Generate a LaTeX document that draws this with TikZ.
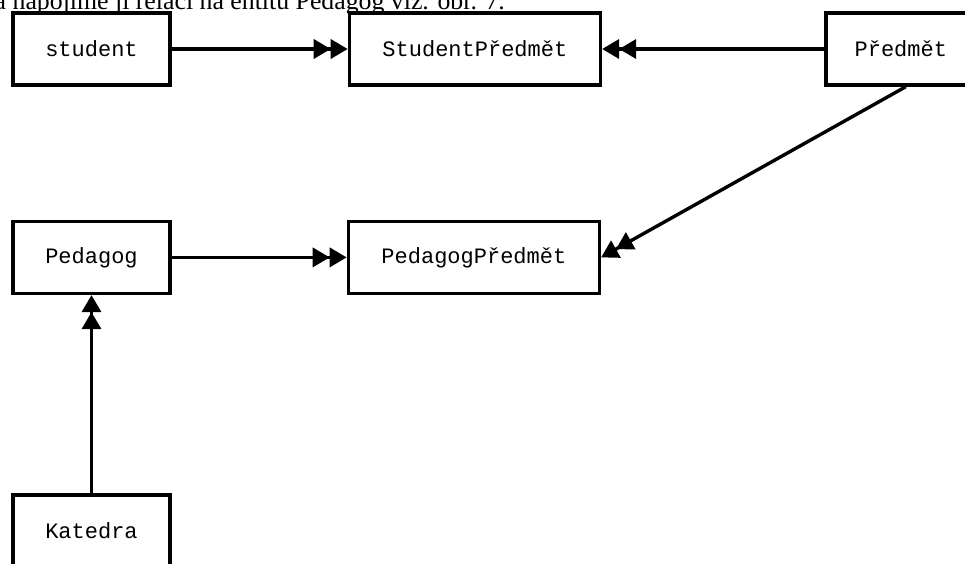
\documentclass[tikz,border=0pt]{standalone}
\usepackage{fontspec}
\setmainfont{Liberation Serif}
\newfontfamily\entityfont{Liberation Mono}
\usetikzlibrary{arrows.meta,positioning}

\begin{document}
\begin{tikzpicture}[->>, >={Triangle[length=17pt,width=19pt]}, line width=3.4pt, x=1pt, y=1pt]
        \tikzset{
           entity/.style={
                        rectangle,
                        draw=black,
                        fill=none,
                        text=black,
                        inner sep=0pt,
                        minimum height=72pt,
                        font=\entityfont\fontsize{22}{26}\selectfont
                       },
           shortEntity/.style={
                        entity,
                        minimum width=157pt
                       },
           longEntity/.style={
                        entity,
                        minimum width=251pt
                       },
           caption/.style={
                        anchor=base west,
                        inner sep=0pt,
                        text=black,
                        font=\fontsize{25.8}{30}\selectfont
                       },
                 };
    \useasboundingbox (0,0) rectangle (965,-563);
    \clip (0,0) rectangle (965,-563);
    %--------------------
        \node[caption]     (note)           at (-7,-9)                     {a napojíme ji relací na entitu Pedagog viz. obr. 7.};

        \node[shortEntity] (student)        at (91.5,-49)                  {student};
        \node[longEntity]  (studentPredmet) [right=176pt of student]       {StudentPředmět};
        \node[entity, minimum width=150pt]
                           (predmet)        [right=222pt of studentPredmet] {Předmět};

        \node[shortEntity] (pedagog)        [below=133pt of student]       {Pedagog};
        \node[longEntity]  (pedagogPredmet) [right=175pt of pedagog]       {PedagogPředmět};

        \node[shortEntity] (katedra)        [below=198pt of pedagog]       {Katedra};
    %--------------------
        \path (student)                     edge (studentPredmet)
              (predmet)                     edge (studentPredmet)
              ([xshift=5pt]predmet.south)   edge (pedagogPredmet.east)

              (pedagog)                     edge (pedagogPredmet)
              (katedra)                     edge (pedagog);
\end{tikzpicture}
\end{document}
